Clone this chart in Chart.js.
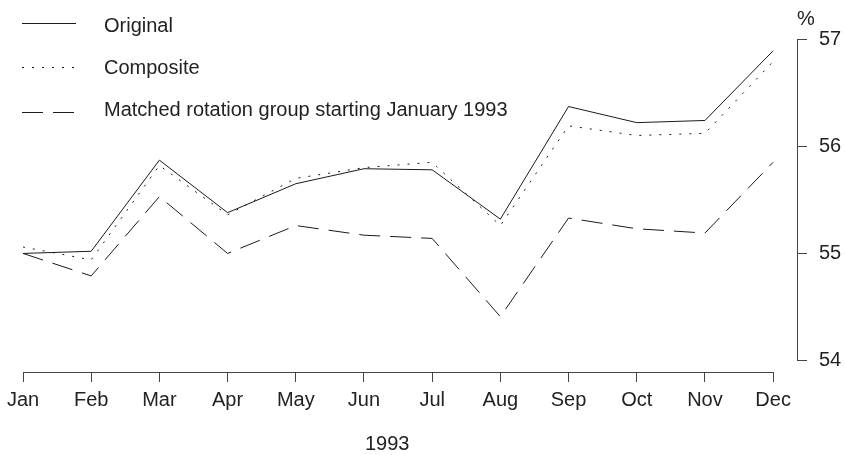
<!DOCTYPE html>
<html>
<head>
<meta charset="utf-8">
<script src="https://cdn.jsdelivr.net/npm/chart.js@4.4.1/dist/chart.umd.min.js"></script>
<style>
  html, body { margin: 0; padding: 0; background: #fff; }
  #wrap { width: 845px; height: 455px; position: relative; }
</style>
</head>
<body>
<div id="wrap"><canvas id="chart" width="845" height="455"></canvas></div>
<script>
const months = ['Jan', 'Feb', 'Mar', 'Apr', 'May', 'Jun', 'Jul', 'Aug', 'Sep', 'Oct', 'Nov', 'Dec'];
const original  = [55.00, 55.02, 55.87, 55.38, 55.65, 55.79, 55.78, 55.32, 56.37, 56.22, 56.24, 56.89];
const composite = [55.06, 54.94, 55.82, 55.36, 55.70, 55.80, 55.85, 55.26, 56.19, 56.10, 56.12, 56.79];
const matched   = [55.00, 54.79, 55.53, 55.00, 55.26, 55.17, 55.14, 54.41, 55.33, 55.23, 55.19, 55.85];
const yTicks = [54, 55, 56, 57];
const xTitle = '1993';
const yUnit = '%';

const FONT = "'Liberation Sans', Arial, sans-serif";
const INK = '#1a1a1a';
const AXIS = '#444';

const legendItems = [
  { label: 'Original', dash: [], lineY: 23.5, textY: 31.5 },
  { label: 'Composite', dash: [2, 8], lineY: 67.5, textY: 73.5 },
  { label: 'Matched rotation group starting January 1993', dash: [21, 10], lineY: 112.5, textY: 116 }
];

const toPoints = arr => arr.map((v, i) => ({ x: i, y: v }));

function lineSet(label, values, dash) {
  return {
    label: label,
    data: toPoints(values),
    borderColor: INK,
    borderWidth: 1,
    borderDash: dash,
    pointRadius: 0,
    tension: 0,
    fill: false
  };
}

// axis lines (R style, only between first and last tick), legend and loose texts
const extras = {
  id: 'extras',
  afterDraw(chart) {
    const ctx = chart.ctx;
    const x = chart.scales.x, y = chart.scales.y;
    const area = chart.chartArea;
    ctx.save();
    ctx.strokeStyle = AXIS;
    ctx.lineWidth = 1;
    ctx.beginPath();
    ctx.moveTo(x.getPixelForValue(0), Math.round(area.bottom) + 0.5);
    ctx.lineTo(x.getPixelForValue(months.length - 1), Math.round(area.bottom) + 0.5);
    ctx.moveTo(Math.round(area.right) + 0.5, y.getPixelForValue(yTicks[0]));
    ctx.lineTo(Math.round(area.right) + 0.5, y.getPixelForValue(yTicks[yTicks.length - 1]));
    ctx.stroke();

    ctx.fillStyle = '#222';
    ctx.font = '20px ' + FONT;
    ctx.textBaseline = 'alphabetic';
    ctx.textAlign = 'left';
    ctx.fillText(yUnit, 797, 25);
    ctx.fillText(xTitle, 365, 450);

    legendItems.forEach(it => {
      ctx.strokeStyle = INK;
      ctx.setLineDash(it.dash);
      ctx.beginPath();
      ctx.moveTo(22, it.lineY);
      ctx.lineTo(76, it.lineY);
      ctx.stroke();
      ctx.setLineDash([]);
      ctx.fillText(it.label, 104, it.textY);
    });
    ctx.restore();
  }
};

Chart.defaults.font.family = FONT;
Chart.defaults.font.size = 20;
Chart.defaults.color = '#222';

new Chart(document.getElementById('chart'), {
  type: 'line',
  data: {
    datasets: [
      lineSet('Original', original, []),
      lineSet('Composite', composite, [2, 8]),
      lineSet('Matched rotation group starting January 1993', matched, [21, 10])
    ]
  },
  options: {
    responsive: false,
    animation: false,
    events: [],
    layout: { padding: { top: 39, left: 23, right: 0, bottom: 0 } },
    plugins: { legend: { display: false }, tooltip: { enabled: false } },
    scales: {
      x: {
        type: 'linear',
        min: 0,
        max: 11.35,
        afterBuildTicks: s => { s.ticks = months.map((m, i) => ({ value: i })); },
        afterFit: s => { s.height = 83; },
        border: { display: false },
        grid: { drawOnChartArea: false, drawTicks: true, tickLength: 10, color: AXIS, lineWidth: 1 },
        ticks: {
          autoSkip: false,
          maxRotation: 0,
          padding: 6,
          callback: v => months[v]
        }
      },
      y: {
        type: 'linear',
        position: 'right',
        min: 53.894,
        max: 57,
        afterBuildTicks: s => { s.ticks = yTicks.map(v => ({ value: v })); },
        afterFit: s => { s.width = 48; },
        border: { display: false },
        grid: { drawOnChartArea: false, drawTicks: true, tickLength: 10, color: AXIS, lineWidth: 1 },
        ticks: { padding: 12 }
      }
    }
  },
  plugins: [extras]
});
</script>
</body>
</html>
